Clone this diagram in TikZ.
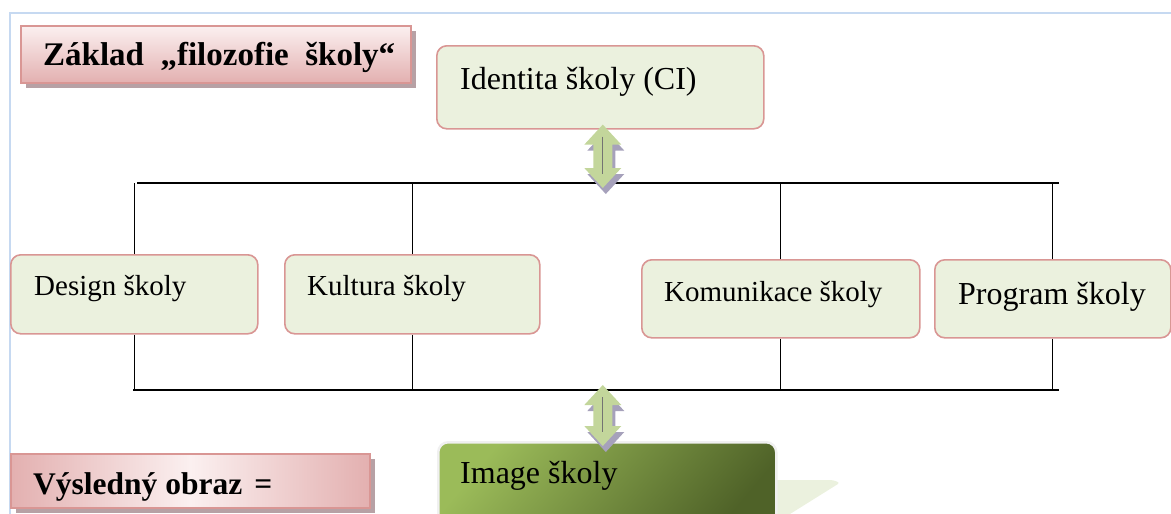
\documentclass[tikz,border=0pt]{standalone}
\usepackage{fontspec}
\setmainfont{Liberation Serif}
\usepackage{tikz}
\usetikzlibrary{calc,shadows}
\definecolor{frameblue}{HTML}{C6D9F1}
\definecolor{boxgreen}{HTML}{EBF1DE}
\definecolor{boxedge}{HTML}{D99694}
\definecolor{pinklight}{HTML}{FBF0F0}
\definecolor{pinkdark}{HTML}{E3B0B0}
\definecolor{pinkshadow}{HTML}{B7A1A5}
\definecolor{arrowgreen}{HTML}{C3D69B}
\definecolor{arrowshade}{HTML}{A6A1BB}
\definecolor{imglight}{HTML}{9BBB59}
\definecolor{imgdark}{HTML}{4F6228}
\def\fatarrow[#1](#2)(#3)% Syntax: [fill options] (top tip) (bottom tip)
    { \fill[#1] (#2) -- ($(#2)+(18.5,20)$) -- ($(#2)+(9.5,20)$) -- ($(#3)+(9.5,-20)$) -- ($(#3)+(18.5,-20)$)
        -- (#3) -- ($(#3)+(-18.5,-20)$) -- ($(#3)+(-9.5,-20)$) -- ($(#2)+(-9.5,20)$) -- ($(#2)+(-18.5,20)$) -- cycle; }

\begin{document}
\begin{tikzpicture}[x=1pt,y=-1pt,
    pinkbox/.style={draw=boxedge,line width=1.6pt,
      drop shadow={shadow xshift=5pt,shadow yshift=-5pt,fill=pinkshadow,opacity=1}},
    greenbox/.style={draw=boxedge,line width=1.6pt,fill=boxgreen,rounded corners=10pt},
    boxtext/.style={anchor=base west,inner sep=0pt},
    smalltext/.style={font=\fontsize{29}{34}\selectfont},
    bigtext/.style={font=\fontsize{32}{38}\selectfont},
    titletext/.style={font=\fontsize{33}{40}\selectfont\bfseries},
    bus/.style={line width=1.2pt,black},
    arrowcore/.style={line width=0.8pt,black!55}]
   \useasboundingbox (0,0) rectangle (1171,514);
   \clip (0,0) rectangle (1171,514);

   % page frame
   \draw[frameblue,line width=1.5pt] (10,514) -- (10,13) -- (1171,13);

   % headings
   \node[pinkbox,top color=pinklight,bottom color=pinkdark,minimum width=390,minimum height=57,anchor=north west] (basis) at (20,25) {};
   \node[boxtext,titletext] (basis-t) at ([shift={(23,40)}]basis.north west) {Základ\ \ „filozofie\ \ školy“};
   \node[pinkbox,left color=pinkdark,right color=pinkdark,middle color=pinklight,minimum width=359,minimum height=54,anchor=north west] (result) at (10,453) {};
   \node[boxtext,titletext,font=\fontsize{31.5}{38}\selectfont\bfseries] (result-t) at ([shift={(23,41)}]result.north west) {Výsledný obraz\hspace{12pt}=};

   % identity and the four parts
   \node[greenbox,minimum width=327,minimum height=83,anchor=north west] (ident) at (436,45) {};
   \node[boxtext,bigtext] (ident-t) at ([shift={(24,44)}]ident.north west) {Identita školy (CI)};

   \node[greenbox,minimum width=247,minimum height=79,anchor=north west] (design) at (10,254) {};
   \node[boxtext,smalltext] (design-t) at ([shift={(24,41)}]design.north west) {Design školy};
   \node[greenbox,minimum width=255,minimum height=79,anchor=north west] (culture) at (284,254) {};
   \node[boxtext,smalltext] (culture-t) at ([shift={(23,41)}]culture.north west) {Kultura školy};
   \node[greenbox,minimum width=278,minimum height=78,anchor=north west] (comm) at (641,259) {};
   \node[boxtext,smalltext] (comm-t) at ([shift={(23,42.5)}]comm.north west) {Komunikace školy};
   \node[greenbox,minimum width=236,minimum height=78,anchor=north west] (program) at (934,259) {};
   \node[boxtext,bigtext] (program-t) at ([shift={(24,45)}]program.north west) {Program školy};

   % bus lines
   \coordinate (tl) at (137,183);
   \coordinate (tr) at (1059,183);
   \coordinate (bl) at (133,390);
   \coordinate (br) at (1059,390);
   \draw[bus] (tl) -- (tr);
   \draw[bus] (bl) -- (br);
   \foreach \part in {design,culture,comm,program} {
     \draw[bus] (\part.north) -- (\part.north |- tl);
     \draw[bus] (\part.south) -- (\part.south |- bl);
   }

   % image
   \fill[boxgreen] (775,480) -- (830,480) to[out=0,in=30] (838,484) -- (790,514) -- (775,514) -- cycle;
   \node[draw=black!6,line width=2.5pt,top color=imglight,bottom color=imgdark,shading angle=50,
         rounded corners=10pt,minimum width=338,minimum height=90,anchor=north west] (image) at (437,441) {};
   \node[boxtext,bigtext] (image-t) at ([shift={(23,42)}]image.north west) {Image školy};

   % double arrows
   \coordinate (a1t) at ($(ident.south)+(2.5,-5)$);
   \coordinate (a1b) at ($(a1t |- tl)+(0,5)$);
   \coordinate (a2t) at ($(a1t |- bl)+(0,-5)$);
   \coordinate (a2b) at ($(a2t |- image.north)+(0,5)$);
   \fatarrow[arrowshade,transform canvas={xshift=3pt,yshift=-6pt}](a1t)(a1b)
   \fatarrow[arrowgreen](a1t)(a1b)
   \draw[arrowcore] ($(a1t)+(0,12)$) -- ($(a1b)+(0,-14)$);
   \fatarrow[arrowshade,transform canvas={xshift=3pt,yshift=-6pt}](a2t)(a2b)
   \fatarrow[arrowgreen](a2t)(a2b)
   \draw[arrowcore] ($(a2t)+(0,12)$) -- ($(a2b)+(0,-14)$);
\end{tikzpicture}
\end{document}
